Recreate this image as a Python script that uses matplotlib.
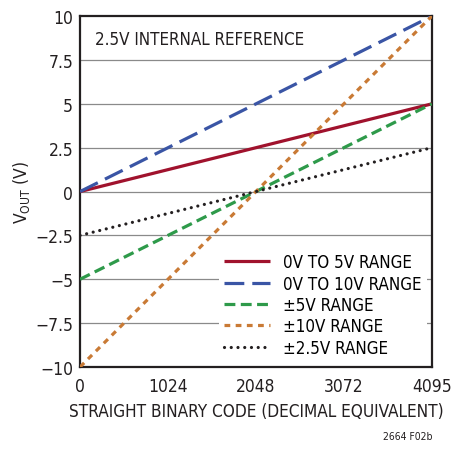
import matplotlib
matplotlib.use("Agg")
import matplotlib.pyplot as plt

plt.rcParams["font.family"] = ["DejaVu Sans"]
plt.rcParams["font.stretch"] = "condensed"

codes = [0, 4095]
labels = ["0V TO 5V RANGE", "0V TO 10V RANGE", "\u00b15V RANGE", "\u00b110V RANGE", "\u00b12.5V RANGE"]
vout = [[0, 5], [0, 10], [-5, 5], [-10, 10], [-2.5, 2.5]]
colors = ["#a0122d", "#3a55a5", "#2e9a4a", "#c97a35", "#231f20"]
dashes = [None, (6.2, 2.5), (3.4, 1.7), (1.8, 1.7), (0.01, 2.1)]
caps = ["butt", "butt", "butt", "butt", "round"]
yticks = [-10, -7.5, -5, -2.5, 0, 2.5, 5, 7.5, 10]
yticklabels = ["\u221210", "\u22127.5", "\u22125", "\u22122.5", "0", "2.5", "5", "7.5", "10"]
xticks = [0, 1024, 2048, 3072, 4095]

fig = plt.figure(figsize=(4.55, 4.52), dpi=100)
ax = fig.add_axes([0.176, 0.186, 0.773, 0.776])
for yv in yticks[1:-1]:
    ax.axhline(yv, color="#8a8a8a", lw=0.9, zorder=1)
for lab, v, c, d, cap in zip(labels, vout, colors, dashes, caps):
    ln, = ax.plot(codes, v, color=c, lw=2.3, label=lab, zorder=3,
                  solid_capstyle="butt", dash_capstyle=cap)
    if d is not None:
        ln.set_dashes(d)
ax.set_xlim(0, 4095)
ax.set_ylim(-10, 10)
ax.set_yticks(yticks)
ax.set_yticklabels(yticklabels)
ax.set_xticks(xticks)
ax.tick_params(length=0, labelsize=12.5, colors="#231f20")
ax.tick_params(axis="x", pad=7)
ax.tick_params(axis="y", pad=5)
for s in ax.spines.values():
    s.set_linewidth(1.6)
    s.set_color("#231f20")
ax.set_xlabel("STRAIGHT BINARY CODE (DECIMAL EQUIVALENT)", fontsize=12.3, color="#231f20", labelpad=5)
ax.set_ylabel(r"V$_{\mathrm{OUT}}$ (V)", fontsize=12.5, color="#231f20", labelpad=2)
ax.text(0.043, 0.935, "2.5V INTERNAL REFERENCE", transform=ax.transAxes, fontsize=12.2,
        color="#231f20", va="center")
leg = ax.legend(loc="lower right", frameon=True, fontsize=12.2, handlelength=2.75,
                handletextpad=0.75, labelspacing=0.2, borderaxespad=0.3, borderpad=0.3)
leg.get_frame().set_edgecolor("none")
leg.get_frame().set_facecolor("white")
leg.get_frame().set_alpha(1)
leg.set_zorder(5)
fig.text(0.95, 0.027, "2664 F02b", fontsize=7.5, ha="right", color="#231f20")
fig.savefig("out.png", dpi=100)
